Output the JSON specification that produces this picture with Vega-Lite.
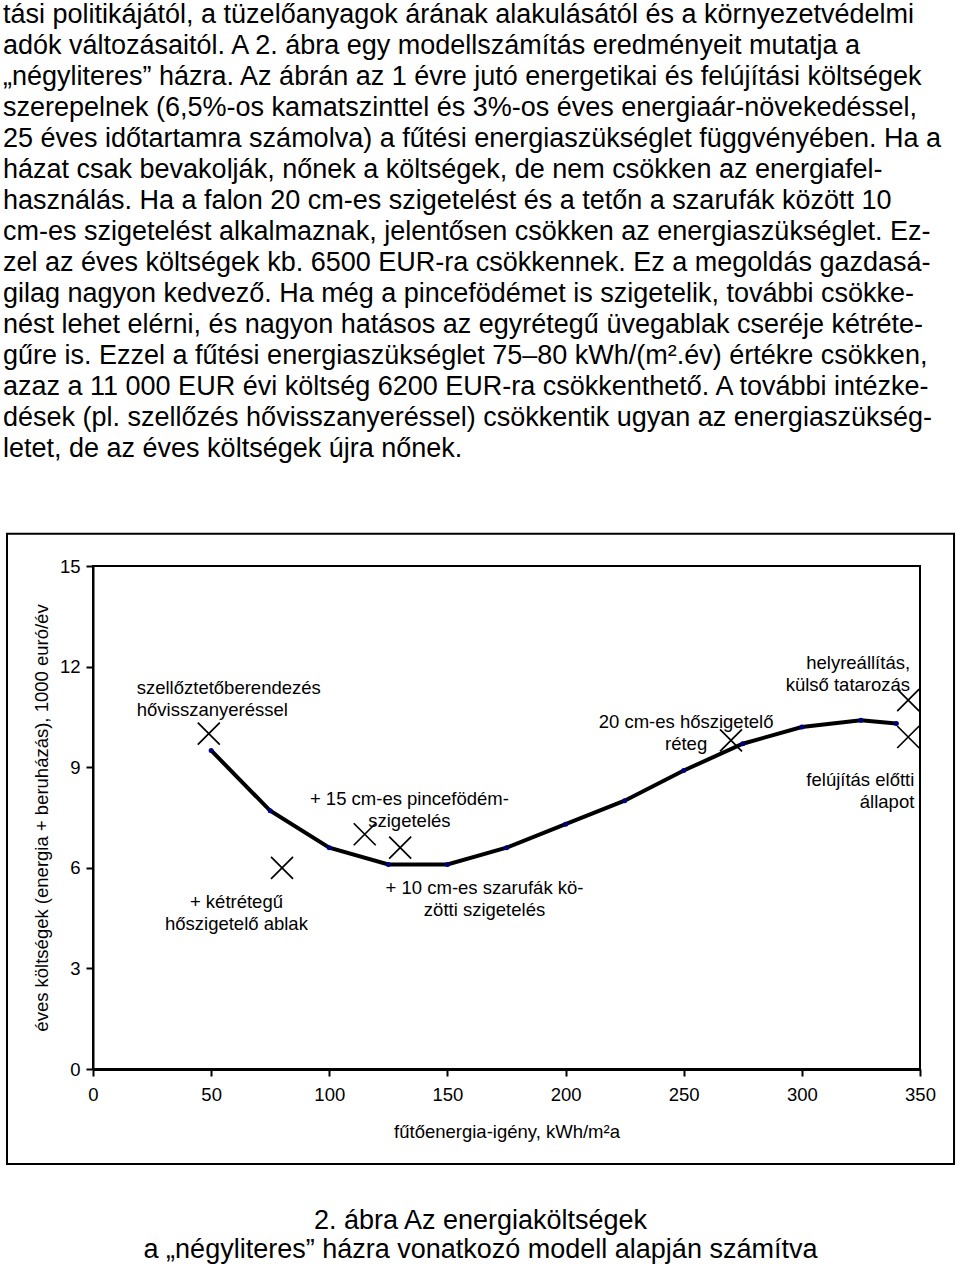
{
  "$schema": "https://vega.github.io/schema/vega-lite/v6.json",
  "background": "white",
  "padding": {"left": 2, "top": 0, "right": 0, "bottom": 0},
  "title": {
    "text": [
      "tási politikájától, a tüzelőanyagok árának alakulásától és a környezetvédelmi",
      "adók változásaitól. A 2. ábra egy modellszámítás eredményeit mutatja a",
      "„négyliteres” házra. Az ábrán az 1 évre jutó energetikai és felújítási költségek",
      "szerepelnek (6,5%-os kamatszinttel és 3%-os éves energiaár-növekedéssel,",
      "25 éves időtartamra számolva) a fűtési energiaszükséglet függvényében. Ha a",
      "házat csak bevakolják, nőnek a költségek, de nem csökken az energiafel-",
      "használás. Ha a falon 20 cm-es szigetelést és a tetőn a szarufák között 10",
      "cm-es szigetelést alkalmaznak, jelentősen csökken az energiaszükséglet. Ez-",
      "zel az éves költségek kb. 6500 EUR-ra csökkennek. Ez a megoldás gazdasá-",
      "gilag nagyon kedvező. Ha még a pincefödémet is szigetelik, további csökke-",
      "nést lehet elérni, és nagyon hatásos az egyrétegű üvegablak cseréje kétréte-",
      "gűre is. Ezzel a fűtési energiaszükséglet 75–80 kWh/(m².év) értékre csökken,",
      "azaz a 11 000 EUR évi költség 6200 EUR-ra csökkenthető. A további intézke-",
      "dések (pl. szellőzés hővisszanyeréssel) csökkentik ugyan az energiaszükség-",
      "letet, de az éves költségek újra nőnek."
    ],
    "anchor": "start",
    "frame": "bounds",
    "font": "Liberation Sans",
    "fontSize": 27,
    "fontWeight": "normal",
    "color": "black",
    "lineHeight": 31,
    "offset": 69,
    "dx": -2
  },
  "datasets": {
    "curve": [
      {"energy": 50, "cost": 9.5},
      {"energy": 75, "cost": 7.7},
      {"energy": 100, "cost": 6.6},
      {"energy": 125, "cost": 6.1},
      {"energy": 150, "cost": 6.1},
      {"energy": 175, "cost": 6.6},
      {"energy": 200, "cost": 7.3},
      {"energy": 225, "cost": 8.0},
      {"energy": 250, "cost": 8.9},
      {"energy": 275, "cost": 9.7},
      {"energy": 300, "cost": 10.2},
      {"energy": 325, "cost": 10.4},
      {"energy": 340, "cost": 10.3}
    ],
    "measures": [
      {"measure": "szellőztetőberendezés hővisszanyeréssel", "energy": 49, "cost": 10.0, "label": "szellőztetőberendezés\nhővisszanyeréssel", "label_x": 18.5, "label_y": 11.36},
      {"measure": "+ kétrétegű hőszigetelő ablak", "energy": 80, "cost": 6.0, "label": "+ kétrétegű\nhőszigetelő ablak", "label_x": 60.7, "label_y": 4.97},
      {"measure": "+ 15 cm-es pincefödém-szigetelés", "energy": 115, "cost": 7.0, "label": "+ 15 cm-es pincefödém-\nszigetelés", "label_x": 133.9, "label_y": 8.05},
      {"measure": "+ 10 cm-es szarufák közötti szigetelés", "energy": 130, "cost": 6.6, "label": "+ 10 cm-es szarufák kö-\nzötti szigetelés", "label_x": 165.7, "label_y": 5.4},
      {"measure": "20 cm-es hőszigetelő réteg", "energy": 270, "cost": 9.8, "label": "20 cm-es hőszigetelő\nréteg", "label_x": 251.0, "label_y": 10.36},
      {"measure": "helyreállítás, külső tatarozás", "energy": 345, "cost": 11.0, "label": "helyreállítás,\nkülső tatarozás", "label_x": 345.8, "label_y": 12.1},
      {"measure": "felújítás előtti állapot", "energy": 345, "cost": 9.9, "label": "felújítás előtti\nállapot", "label_x": 347.6, "label_y": 8.62}
    ]
  },
  "vconcat": [
    {
      "width": 827,
      "height": 503,
      "title": {
        "text": ["2. ábra Az energiaköltségek", "a „négyliteres” házra vonatkozó modell alapján számítva"],
        "orient": "bottom",
        "anchor": "middle",
        "frame": "bounds",
        "font": "Liberation Sans",
        "fontSize": 27,
        "fontWeight": "normal",
        "color": "black",
        "lineHeight": 29,
        "offset": 43
      },
      "layer": [
        {
          "data": {"name": "curve"},
          "mark": {"type": "line", "color": "black", "strokeWidth": 4},
          "encoding": {
            "x": {
              "field": "energy", "type": "quantitative",
              "scale": {"domain": [0, 350], "nice": false, "zero": false},
              "axis": {"title": "fűtőenergia-igény, kWh/m²a", "values": [0, 50, 100, 150, 200, 250, 300, 350], "labelFlush": false, "labelOverlap": false}
            },
            "y": {
              "field": "cost", "type": "quantitative",
              "scale": {"domain": [0, 15], "nice": false, "zero": false},
              "axis": {"title": "éves költségek (energia + beruházás), 1000 euró/év", "values": [0, 3, 6, 9, 12, 15], "labelFlush": false, "labelOverlap": false}
            }
          }
        },
        {
          "data": {"values": [{}]},
          "mark": {"type": "rect", "fill": null, "stroke": "black", "strokeWidth": 2, "clip": false},
          "encoding": {
            "x": {"datum": -36.4, "type": "quantitative"},
            "x2": {"datum": 364.4},
            "y": {"datum": 15.96, "type": "quantitative"},
            "y2": {"datum": -2.83}
          }
        },
        {
          "data": {"name": "curve"},
          "mark": {"type": "point", "filled": true, "color": "#000080", "size": 25, "opacity": 1},
          "encoding": {
            "x": {"field": "energy", "type": "quantitative"},
            "y": {"field": "cost", "type": "quantitative"}
          }
        },
        {
          "data": {"name": "measures"},
          "mark": {"type": "point", "shape": "M-1,-1L1,1M-1,1L1,-1", "filled": false, "stroke": "black", "strokeWidth": 1.7, "size": 484, "opacity": 1},
          "encoding": {
            "x": {"field": "energy", "type": "quantitative"},
            "y": {"field": "cost", "type": "quantitative"}
          }
        },
        {
          "data": {"name": "measures"},
          "transform": [{"filter": {"field": "measure", "oneOf": ["szellőztetőberendezés hővisszanyeréssel"]}}],
          "mark": {"type": "text", "align": "left", "baseline": "middle", "lineBreak": "\n", "lineHeight": 22, "fontSize": 18.5, "font": "Liberation Sans", "color": "black"},
          "encoding": {
            "x": {"field": "label_x", "type": "quantitative"},
            "y": {"field": "label_y", "type": "quantitative"},
            "text": {"field": "label"}
          }
        },
        {
          "data": {"name": "measures"},
          "transform": [{"filter": {"field": "measure", "oneOf": ["+ kétrétegű hőszigetelő ablak", "+ 15 cm-es pincefödém-szigetelés", "+ 10 cm-es szarufák közötti szigetelés", "20 cm-es hőszigetelő réteg"]}}],
          "mark": {"type": "text", "align": "center", "baseline": "middle", "lineBreak": "\n", "lineHeight": 22, "fontSize": 18.5, "font": "Liberation Sans", "color": "black"},
          "encoding": {
            "x": {"field": "label_x", "type": "quantitative"},
            "y": {"field": "label_y", "type": "quantitative"},
            "text": {"field": "label"}
          }
        },
        {
          "data": {"name": "measures"},
          "transform": [{"filter": {"field": "measure", "oneOf": ["helyreállítás, külső tatarozás", "felújítás előtti állapot"]}}],
          "mark": {"type": "text", "align": "right", "baseline": "middle", "lineBreak": "\n", "lineHeight": 22, "fontSize": 18.5, "font": "Liberation Sans", "color": "black"},
          "encoding": {
            "x": {"field": "label_x", "type": "quantitative"},
            "y": {"field": "label_y", "type": "quantitative"},
            "text": {"field": "label"}
          }
        }
      ]
    }
  ],
  "config": {
    "font": "Liberation Sans",
    "view": {"stroke": "black", "strokeWidth": 2},
    "axis": {
      "grid": false,
      "domainColor": "black",
      "domainWidth": 2,
      "tickColor": "black",
      "tickWidth": 2,
      "tickSize": 7,
      "labelFont": "Liberation Sans",
      "labelFontSize": 18.5,
      "labelColor": "black",
      "titleFont": "Liberation Sans",
      "titleFontSize": 18.5,
      "titleFontWeight": "normal",
      "titleColor": "black"
    },
    "axisX": {"labelPadding": 9, "titlePadding": 19, "domainWidth": 3},
    "axisY": {"labelPadding": 6, "titlePadding": 8}
  }
}
